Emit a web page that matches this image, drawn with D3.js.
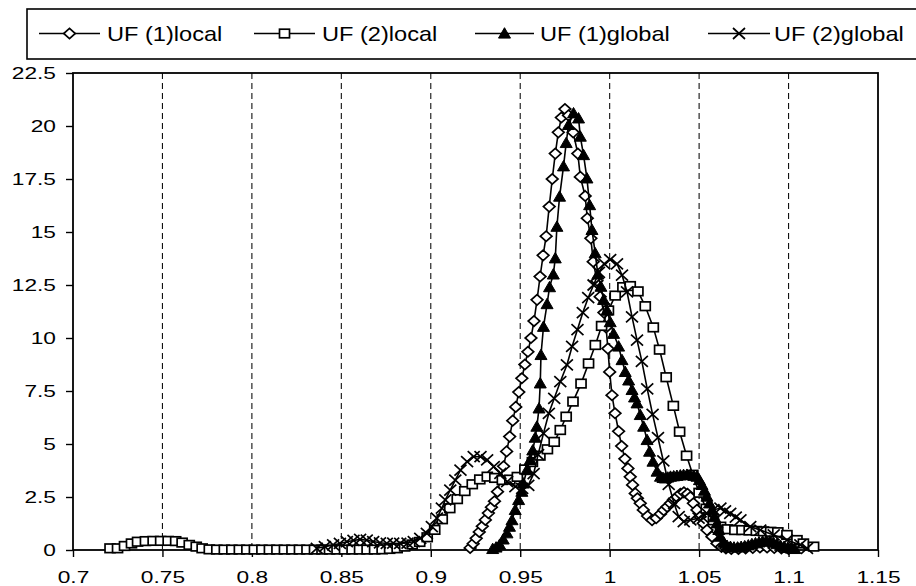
<!DOCTYPE html>
<html><head><meta charset="utf-8">
<script src="https://cdn.jsdelivr.net/npm/d3@7"></script>
<style>body{margin:0;background:#fff}svg{display:block}</style>
</head><body>
<svg id="chart" width="916" height="586"></svg>
<script>
// ---------- data ----------
const seriesNames = ["UF (1)local", "UF (2)local", "UF (1)global", "UF (2)global"];
const xTicks = [0.7, 0.75, 0.8, 0.85, 0.9, 0.95, 1, 1.05, 1.1, 1.15];
const yTicks = [0, 2.5, 5, 7.5, 10, 12.5, 15, 17.5, 20, 22.5];

const uf1Local = [
 [0.9220,0.10],[0.9237,0.30],[0.9254,0.55],[0.9271,0.85],[0.9288,1.12],[0.9305,1.42],[0.9322,1.74],
 [0.9339,2.02],[0.9356,2.30],[0.9373,2.75],[0.9390,3.35],[0.9407,3.95],[0.9424,4.65],[0.9441,5.35],
 [0.9458,6.10],[0.9475,6.75],[0.9492,7.45],[0.9509,8.10],[0.9526,8.75],[0.9543,9.35],[0.9560,10.00],
 [0.9577,10.80],[0.9594,11.80],[0.9611,12.90],[0.9628,13.90],[0.9645,14.80],[0.9662,16.20],[0.9679,17.50],
 [0.9696,18.70],[0.9713,19.70],[0.9730,20.40],[0.9750,20.80],[0.9770,20.50],[0.9796,19.70],[0.9822,18.70],
 [0.9836,17.60],[0.9863,16.70],[0.9875,15.65],[0.9895,14.70],[0.9908,13.60],[0.9929,12.70],[0.9947,11.95],
 [0.9968,11.20],[0.9980,10.50],[0.9990,9.50],[1.0000,8.40],[1.0013,7.30],[1.0030,6.45],[1.0050,5.60],
 [1.0067,4.90],[1.0085,4.30],[1.0102,3.85],[1.0115,3.45],[1.0128,3.07],[1.0143,2.67],[1.0155,2.44],
 [1.0171,2.20],[1.0188,1.89],[1.0212,1.60],[1.0237,1.41],[1.0260,1.50],[1.0284,1.70],[1.0302,1.88],
 [1.0321,2.04],[1.0340,2.20],[1.0356,2.36],[1.0376,2.50],[1.0395,2.65],[1.0415,2.72],[1.0435,2.65],
 [1.0451,2.50],[1.0468,2.20],[1.0488,1.89],[1.0506,1.57],[1.0523,1.26],[1.0544,0.94],[1.0572,0.63],
 [1.0600,0.31],[1.0625,0.15],[1.0650,0.08],[1.0680,0.05],[1.0720,0.05],[1.0760,0.08],[1.0800,0.10],
 [1.0840,0.12],[1.0880,0.12],[1.0920,0.10],[1.0960,0.08],[1.1000,0.05]
];

const uf2Local = [
 [0.7207,0.08],[0.7249,0.08],[0.7288,0.19],[0.7327,0.31],[0.7361,0.39],[0.7405,0.42],[0.7448,0.43],
 [0.7490,0.43],[0.7532,0.43],[0.7574,0.42],[0.7610,0.35],[0.7650,0.24],[0.7689,0.16],[0.7722,0.08],
 [0.7762,0.03],[0.7804,0.02],[0.7846,0.02],[0.7888,0.02],[0.7930,0.02],[0.7972,0.02],[0.8014,0.02],
 [0.8056,0.02],[0.8098,0.02],[0.8140,0.02],[0.8182,0.02],[0.8224,0.02],[0.8266,0.02],[0.8308,0.02],
 [0.8350,0.02],[0.8392,0.02],[0.8434,0.02],[0.8476,0.02],[0.8518,0.02],[0.8560,0.02],[0.8602,0.02],
 [0.8644,0.02],[0.8686,0.02],[0.8728,0.03],[0.8770,0.05],[0.8812,0.08],[0.8854,0.16],[0.8896,0.26],
 [0.8938,0.38],[0.8980,0.60],[0.9022,0.95],[0.9064,1.45],[0.9106,1.97],[0.9148,2.40],[0.9190,2.78],
 [0.9232,3.10],[0.9274,3.33],[0.9316,3.46],[0.9358,3.40],[0.9400,3.30],[0.9442,3.32],[0.9484,3.45],
 [0.9526,3.80],[0.9568,4.15],[0.9610,4.45],[0.9652,4.75],[0.9690,5.10],[0.9724,5.66],[0.9757,6.29],
 [0.9795,7.00],[0.9840,7.85],[0.9882,8.80],[0.9920,9.67],[0.9955,10.57],[0.9993,11.30],[1.0031,12.00],
 [1.0074,12.40],[1.0115,12.45],[1.0158,12.20],[1.0199,11.50],[1.0244,10.50],[1.0279,9.45],[1.0316,8.15],
 [1.0356,6.80],[1.0391,5.58],[1.0430,4.45],[1.0465,3.55],[1.0500,2.70],[1.0540,1.95],[1.0580,1.40],
 [1.0620,1.10],[1.0660,0.98],[1.0700,0.94],[1.0740,0.94],[1.0780,0.92],[1.0820,0.90],[1.0860,0.88],
 [1.0900,0.86],[1.0940,0.84],[1.0991,0.71],[1.1047,0.47],[1.1083,0.31],[1.1140,0.16]
];

const uf1Global = [
 [0.9346,0.05],[0.9365,0.12],[0.9385,0.25],[0.9405,0.50],[0.9426,0.79],[0.9440,1.10],[0.9454,1.41],
 [0.9472,1.89],[0.9491,2.36],[0.9509,2.75],[0.9518,3.14],[0.9537,3.77],[0.9556,4.25],[0.9570,4.70],
 [0.9584,5.30],[0.9593,5.82],[0.9605,6.68],[0.9612,7.86],[0.9616,9.20],[0.9630,10.53],[0.9650,11.60],
 [0.9664,12.40],[0.9685,13.00],[0.9696,13.76],[0.9705,15.25],[0.9720,16.67],[0.9742,18.10],[0.9757,19.20],
 [0.9770,20.05],[0.9798,20.60],[0.9826,20.36],[0.9836,19.50],[0.9854,18.63],[0.9873,17.53],[0.9888,16.27],
 [0.9901,15.10],[0.9919,14.00],[0.9934,13.00],[0.9951,12.42],[0.9966,11.80],[0.9985,11.30],[1.0003,10.75],
 [1.0022,10.20],[1.0050,9.60],[1.0069,8.96],[1.0087,8.40],[1.0106,8.00],[1.0125,7.55],[1.0139,7.20],
 [1.0153,6.92],[1.0171,6.37],[1.0190,5.82],[1.0209,5.19],[1.0223,4.64],[1.0242,4.17],[1.0265,3.70],
 [1.0284,3.46],[1.0298,3.40],[1.0311,3.38],[1.0325,3.42],[1.0340,3.46],[1.0358,3.48],[1.0376,3.50],
 [1.0395,3.52],[1.0413,3.54],[1.0432,3.55],[1.0451,3.54],[1.0470,3.50],[1.0488,3.46],[1.0502,3.30],
 [1.0516,3.07],[1.0530,2.80],[1.0544,2.52],[1.0558,2.20],[1.0572,1.89],[1.0586,1.55],[1.0600,1.26],
 [1.0610,0.95],[1.0619,0.63],[1.0638,0.35],[1.0656,0.20],[1.0675,0.15],[1.0695,0.12],[1.0715,0.12],
 [1.0735,0.15],[1.0755,0.18],[1.0775,0.22],[1.0795,0.28],[1.0815,0.32],[1.0835,0.36],[1.0855,0.40],
 [1.0875,0.42],[1.0895,0.40],[1.0915,0.35],[1.0935,0.28],[1.0955,0.20],[1.0975,0.15],[1.0995,0.10],
 [1.1015,0.07],[1.1035,0.05]
];

const uf2Global = [
 [0.8363,0.08],[0.8408,0.16],[0.8454,0.24],[0.8492,0.31],[0.8531,0.39],[0.8568,0.45],[0.8605,0.50],
 [0.8642,0.46],[0.8678,0.40],[0.8716,0.34],[0.8754,0.31],[0.8790,0.32],[0.8829,0.31],[0.8870,0.33],
 [0.8905,0.40],[0.8941,0.55],[0.8978,0.79],[0.9006,1.10],[0.9034,1.50],[0.9062,1.97],[0.9081,2.36],
 [0.9109,2.83],[0.9137,3.30],[0.9166,3.77],[0.9203,4.17],[0.9240,4.40],[0.9278,4.40],[0.9315,4.25],
 [0.9352,3.93],[0.9389,3.62],[0.9427,3.22],[0.9473,2.99],[0.9511,2.91],[0.9545,3.05],[0.9575,3.60],
 [0.9600,4.50],[0.9630,5.50],[0.9660,6.45],[0.9690,7.15],[0.9724,7.94],[0.9761,8.73],[0.9790,9.60],
 [0.9820,10.40],[0.9850,11.20],[0.9880,11.90],[0.9910,12.50],[0.9940,13.10],[0.9970,13.50],[1.0003,13.70],
 [1.0041,13.50],[1.0069,12.97],[1.0097,12.18],[1.0125,11.00],[1.0153,9.90],[1.0180,8.90],[1.0210,7.60],
 [1.0240,6.40],[1.0270,5.30],[1.0300,4.20],[1.0330,3.10],[1.0360,2.20],[1.0386,1.57],[1.0414,1.34],
 [1.0451,1.42],[1.0497,1.50],[1.0544,1.73],[1.0580,1.90],[1.0619,1.97],[1.0645,1.85],[1.0674,1.73],
 [1.0705,1.55],[1.0731,1.42],[1.0786,1.10],[1.0842,0.94],[1.0917,0.71],[1.0991,0.47],[1.1066,0.24],
 [1.1103,0.08]
];

const seriesData = [uf1Local, uf2Local, uf1Global, uf2Global];
const markerTypes = ["diamond", "square", "triangle", "cross"];

// ---------- layout ----------
const svg = d3.select("#chart");
const x = d3.scaleLinear().domain([0.7, 1.15]).range([73, 878]);
const y = d3.scaleLinear().domain([0, 22.5]).range([550, 73]);
const FONT = "'Liberation Sans', Arial, Helvetica, sans-serif";
const STRETCH = 1.42;

// vertical dashed gridlines
svg.append("g").selectAll("line")
  .data(xTicks.filter(d => d > 0.7 && d < 1.15))
  .join("line")
  .attr("x1", d => x(d)).attr("x2", d => x(d))
  .attr("y1", y(22.5)).attr("y2", y(0))
  .attr("stroke", "#111").attr("stroke-width", 1.1)
  .attr("stroke-dasharray", "6,4");

// axes
const yAxis = d3.axisLeft(y).tickValues(yTicks).tickSize(7).tickPadding(5)
  .tickSizeOuter(0).tickFormat(d => String(d));
const gy = svg.append("g").attr("transform", "translate(73,0)").call(yAxis);
const xAxis = d3.axisBottom(x).tickValues(xTicks).tickSize(7).tickPadding(15)
  .tickSizeOuter(0).tickFormat(d => String(d));
const gx = svg.append("g").attr("transform", "translate(0,550)").call(xAxis);
[gx, gy].forEach(g => {
  g.select(".domain").remove();
  g.selectAll(".tick line").attr("stroke", "#000").attr("stroke-width", 1.4);
  g.selectAll(".tick text").attr("font-family", FONT).attr("font-size", 16).attr("fill", "#000");
});
gy.selectAll(".tick text").attr("transform", `scale(${STRETCH},1)`);
gx.selectAll(".tick text").attr("transform", `scale(${STRETCH},1)`);

// plot frame
svg.append("rect")
  .attr("x", x(0.7)).attr("y", y(22.5))
  .attr("width", x(1.15) - x(0.7)).attr("height", y(0) - y(22.5))
  .attr("fill", "none").attr("stroke", "#000").attr("stroke-width", 1.8);

// markers
function drawMarker(g, type, cx, cy) {
  if (type === "diamond") {
    g.append("path").attr("d", `M${cx},${cy-5.2}L${cx+5.8},${cy}L${cx},${cy+5.2}L${cx-5.8},${cy}Z`)
      .attr("fill", "#fff").attr("stroke", "#000").attr("stroke-width", 1.7);
  } else if (type === "square") {
    g.append("rect").attr("x", cx - 5).attr("y", cy - 4.3).attr("width", 10).attr("height", 8.6)
      .attr("fill", "#fff").attr("stroke", "#000").attr("stroke-width", 1.7);
  } else if (type === "triangle") {
    g.append("path").attr("d", `M${cx},${cy-5.8}L${cx+6},${cy+4.6}L${cx-6},${cy+4.6}Z`)
      .attr("fill", "#000").attr("stroke", "#000").attr("stroke-width", 1);
  } else {
    g.append("path").attr("d", `M${cx-6},${cy-5.5}L${cx+6},${cy+5.5}M${cx-6},${cy+5.5}L${cx+6},${cy-5.5}`)
      .attr("fill", "none").attr("stroke", "#000").attr("stroke-width", 1.7);
  }
}

const line = d3.line().x(d => x(d[0])).y(d => y(d[1]));
seriesData.forEach((data, i) => {
  const g = svg.append("g");
  g.append("path").datum(data).attr("d", line)
    .attr("fill", "none").attr("stroke", "#000").attr("stroke-width", 1.6);
  data.forEach(d => drawMarker(g, markerTypes[i], x(d[0]), y(d[1])));
});

// legend
const legend = svg.append("g");
legend.append("rect").attr("x", 27).attr("y", 9).attr("width", 905).attr("height", 50)
  .attr("fill", "#fff").attr("stroke", "#000").attr("stroke-width", 1.6);
const legendPos = [[39, 100, 107], [254, 315, 322], [475, 534, 540], [708, 770, 774]];
seriesNames.forEach((name, i) => {
  const [x1, x2, tx] = legendPos[i];
  const ly = 33.5;
  legend.append("line").attr("x1", x1).attr("x2", x2).attr("y1", ly).attr("y2", ly)
    .attr("stroke", "#000").attr("stroke-width", 1.6);
  drawMarker(legend, markerTypes[i], (x1 + x2) / 2, ly);
  legend.append("text").attr("transform", `translate(${tx},41) scale(1.18,1)`)
    .attr("font-family", FONT).attr("font-size", 20).attr("fill", "#000").text(name);
});
</script>
</body></html>
